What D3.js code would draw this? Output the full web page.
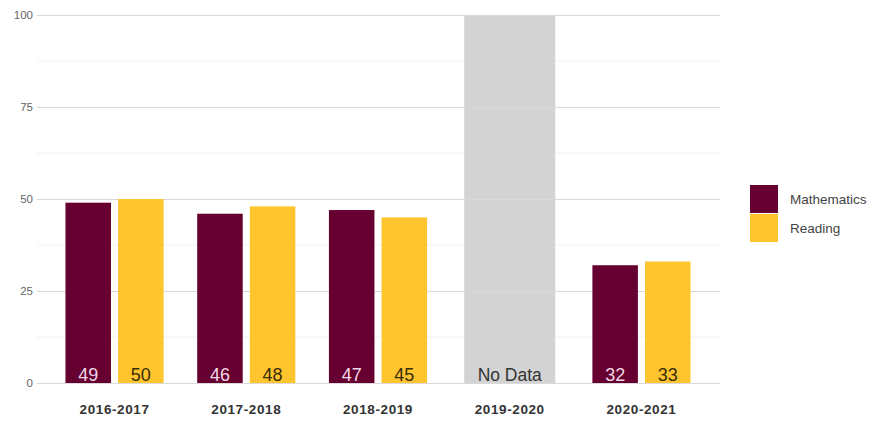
<!DOCTYPE html>
<html><head><meta charset="utf-8">
<script src="https://cdn.jsdelivr.net/npm/d3@7"></script>
<style>body{margin:0;background:#fff;font-family:"Liberation Sans",Arial,sans-serif}</style>
</head><body><svg id="c" width="876" height="424"></svg>
<script>
const categories = ["2016-2017","2017-2018","2018-2019","2019-2020","2020-2021"];
const mathematics = [49,46,47,null,32];
const reading = [50,48,45,null,33];
const noDataLabel = "No Data";
const yTicks = [0,25,50,75,100];
const minorTicks = [12.5,37.5,62.5,87.5];
const seriesNames = ["Mathematics","Reading"];
const colors = ["#650030","#FFC52F"];

const svg = d3.select("#c");
const y = d3.scaleLinear().domain([0,100]).range([383,15]);
const x = d3.scaleBand().domain(categories).range([49,707]).paddingInner(0.255).paddingOuter(0.125);
const inner = d3.scaleBand().domain([0,1]).range([0,x.bandwidth()]).paddingInner(0.135);

// minor grid
svg.append("g").selectAll("line").data(minorTicks).join("line")
  .attr("x1",37).attr("x2",720).attr("y1",d=>y(d)).attr("y2",d=>y(d))
  .attr("stroke","#f1f1f1").attr("stroke-width",1);

// no data bar
categories.forEach((c,i)=>{
  if(mathematics[i]==null){
    const bx = x(c)+x.bandwidth()/2-45.5;
    svg.append("rect").attr("x",bx).attr("width",91).attr("y",y(100)).attr("height",y(0)-y(100)).attr("fill","#d3d3d3");
    svg.append("text").attr("x",x(c)+x.bandwidth()/2).attr("y",381).attr("text-anchor","middle")
      .attr("font-size",17.5).attr("fill","#333").text(noDataLabel);
  }
});

// major grid
svg.append("g").selectAll("line").data(yTicks).join("line")
  .attr("x1",37).attr("x2",720).attr("y1",d=>y(d)+0.5).attr("y2",d=>y(d)+0.5)
  .attr("stroke","#d9d9d9").attr("stroke-width",1.2);

// y axis labels
const ya = svg.append("g").attr("transform","translate(33,0)")
  .call(d3.axisLeft(y).tickValues(yTicks).tickSize(0).tickPadding(0));
ya.select(".domain").remove();
ya.selectAll("text").attr("font-size",11.5).attr("fill","#666").attr("font-family","Liberation Sans, Arial, sans-serif");

// x axis labels
const xa = svg.append("g").attr("transform","translate(0,404)")
  .call(d3.axisBottom(x).tickSize(0).tickPadding(0));
xa.select(".domain").remove();
xa.selectAll("text").attr("font-size",13.5).attr("font-weight","bold").attr("letter-spacing","0.6px")
  .attr("fill","#333").attr("font-family","Liberation Sans, Arial, sans-serif");

const series = [mathematics, reading];
const textColors = ["#f3d6e6","#3a2c05"];
series.forEach((vals,s)=>{
  const g = svg.append("g");
  const data = categories.map((c,i)=>({c,v:vals[i]})).filter(d=>d.v!=null);
  g.selectAll("rect").data(data).join("rect")
    .attr("x",d=>x(d.c)+inner(s)).attr("width",inner.bandwidth())
    .attr("y",d=>y(d.v)).attr("height",d=>y(0)-y(d.v)).attr("fill",colors[s]);
  g.selectAll("text").data(data).join("text")
    .attr("x",d=>x(d.c)+inner(s)+inner.bandwidth()/2).attr("y",381)
    .attr("text-anchor","middle").attr("font-size",18).attr("fill",textColors[s]).text(d=>d.v);
});

// legend
const lg = svg.append("g");
seriesNames.forEach((n,i)=>{
  lg.append("rect").attr("x",750).attr("y",185+i*29).attr("width",28).attr("height",28).attr("fill",colors[i]);
  lg.append("text").attr("x",790).attr("y",199+i*29).attr("dy","0.35em").attr("font-size",13.5).attr("fill","#444").text(n);
});
</script></body></html>
